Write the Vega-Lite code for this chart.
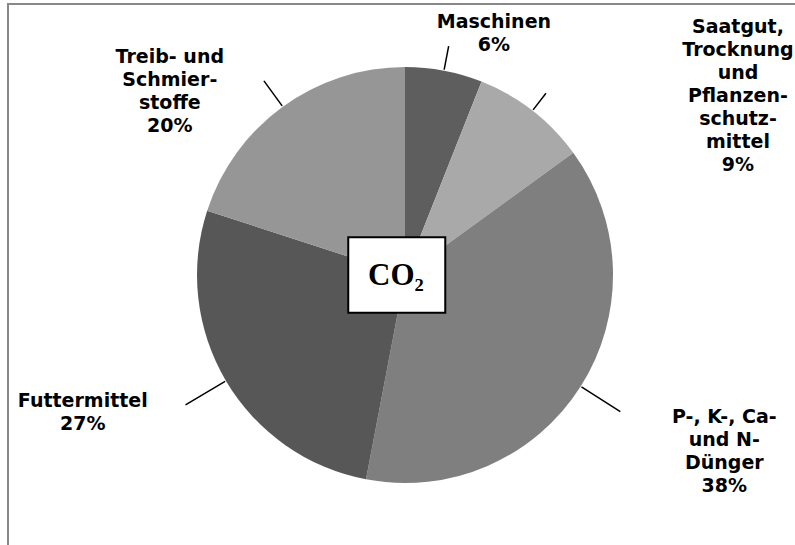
{
  "$schema": "https://vega.github.io/schema/vega-lite/v6.json",
  "width": 794,
  "height": 542,
  "autosize": {"type": "none"},
  "padding": {"left": 8, "top": 4, "right": 0, "bottom": 0},
  "background": "white",
  "view": {"stroke": "#888888", "strokeWidth": 2},
  "config": {"view": {"stroke": "#888888", "strokeWidth": 2}, "style": {"cell": {"stroke": "#888888", "strokeWidth": 2}}},
  "datasets": {
    "shares": [
      {"cat": "Maschinen", "label": "Maschinen\n6%", "value": 6, "rank": 1},
      {"cat": "Saatgut", "label": "Saatgut,\nTrocknung\nund\nPflanzen-\nschutz-\nmittel\n9%", "value": 9, "rank": 2},
      {"cat": "Dünger", "label": "P-, K-, Ca-\nund N-\nDünger\n38%", "value": 38, "rank": 3},
      {"cat": "Futtermittel", "label": "Futtermittel\n27%", "value": 27, "rank": 4},
      {"cat": "Treibstoffe", "label": "Treib- und\nSchmier-\nstoffe\n20%", "value": 20, "rank": 5}
    ],
    "box": [{"t": "CO₂"}]
  },
  "layer": [
    {
      "data": {"name": "shares"},
      "mark": {"type": "arc", "radius": 208},
      "encoding": {
        "theta": {"field": "value", "type": "quantitative", "stack": true},
        "order": {"field": "rank", "type": "quantitative"},
        "color": {
          "field": "cat", "type": "nominal", "legend": null,
          "scale": {
            "domain": ["Maschinen", "Saatgut", "Dünger", "Futtermittel", "Treibstoffe"],
            "range": ["#5e5e5e", "#a9a9a9", "#7f7f7f", "#575757", "#969696"]
          }
        }
      }
    },
    {
      "data": {"name": "shares"},
      "mark": {"type": "arc", "radius2": 209, "radius": 233, "padAngle": 3.1, "fill": null, "fillOpacity": 0, "stroke": "black", "strokeWidth": 1.5},
      "encoding": {
        "theta": {"field": "value", "type": "quantitative", "stack": true},
        "order": {"field": "rank", "type": "quantitative"},
        "strokeOpacity": {"condition": {"test": "datum.cat === 'Maschinen'", "value": 1}, "value": 0}
      }
    },
    {
      "data": {"name": "shares"},
      "mark": {"type": "arc", "radius2": 209, "radius": 230, "padAngle": 3.1, "fill": null, "fillOpacity": 0, "stroke": "black", "strokeWidth": 1.5},
      "encoding": {
        "theta": {"field": "value", "type": "quantitative", "stack": true},
        "order": {"field": "rank", "type": "quantitative"},
        "strokeOpacity": {"condition": {"test": "datum.cat === 'Saatgut'", "value": 1}, "value": 0}
      }
    },
    {
      "data": {"name": "shares"},
      "mark": {"type": "arc", "radius2": 209, "radius": 255, "padAngle": 3.1, "fill": null, "fillOpacity": 0, "stroke": "black", "strokeWidth": 1.5},
      "encoding": {
        "theta": {"field": "value", "type": "quantitative", "stack": true},
        "order": {"field": "rank", "type": "quantitative"},
        "strokeOpacity": {"condition": {"test": "datum.cat === 'Dünger' || datum.cat === 'Futtermittel'", "value": 1}, "value": 0}
      }
    },
    {
      "data": {"name": "shares"},
      "mark": {"type": "arc", "radius2": 209, "radius": 240, "padAngle": 3.1, "fill": null, "fillOpacity": 0, "stroke": "black", "strokeWidth": 1.5},
      "encoding": {
        "theta": {"field": "value", "type": "quantitative", "stack": true},
        "order": {"field": "rank", "type": "quantitative"},
        "strokeOpacity": {"condition": {"test": "datum.cat === 'Treibstoffe'", "value": 1}, "value": 0}
      }
    },
    {
      "data": {"name": "shares"},
      "mark": {"type": "text", "radius": 245, "dx": 43, "dy": -12.5, "font": "DejaVu Sans", "fontWeight": "bold", "fontSize": 19, "lineHeight": 23, "lineBreak": "\n", "align": "center", "baseline": "middle", "color": "black"},
      "encoding": {
        "theta": {"field": "value", "type": "quantitative", "stack": true},
        "order": {"field": "rank", "type": "quantitative"},
        "text": {"condition": {"test": "datum.cat === 'Maschinen'", "field": "label"}, "value": ""}
      }
    },
    {
      "data": {"name": "shares"},
      "mark": {"type": "text", "radius": 230, "dx": 192, "dy": -66, "font": "DejaVu Sans", "fontWeight": "bold", "fontSize": 19, "lineHeight": 23, "lineBreak": "\n", "align": "center", "baseline": "middle", "color": "black"},
      "encoding": {
        "theta": {"field": "value", "type": "quantitative", "stack": true},
        "order": {"field": "rank", "type": "quantitative"},
        "text": {"condition": {"test": "datum.cat === 'Saatgut'", "field": "label"}, "value": ""}
      }
    },
    {
      "data": {"name": "shares"},
      "mark": {"type": "text", "radius": 300, "dx": 66, "dy": -18.5, "font": "DejaVu Sans", "fontWeight": "bold", "fontSize": 19, "lineHeight": 23, "lineBreak": "\n", "align": "center", "baseline": "middle", "color": "black"},
      "encoding": {
        "theta": {"field": "value", "type": "quantitative", "stack": true},
        "order": {"field": "rank", "type": "quantitative"},
        "text": {"condition": {"test": "datum.cat === 'Dünger'", "field": "label"}, "value": ""}
      }
    },
    {
      "data": {"name": "shares"},
      "mark": {"type": "text", "radius": 300, "dx": -64, "dy": -26.5, "font": "DejaVu Sans", "fontWeight": "bold", "fontSize": 19, "lineHeight": 23, "lineBreak": "\n", "align": "center", "baseline": "middle", "color": "black"},
      "encoding": {
        "theta": {"field": "value", "type": "quantitative", "stack": true},
        "order": {"field": "rank", "type": "quantitative"},
        "text": {"condition": {"test": "datum.cat === 'Futtermittel'", "field": "label"}, "value": ""}
      }
    },
    {
      "data": {"name": "shares"},
      "mark": {"type": "text", "radius": 230, "dx": -100, "dy": -31.5, "font": "DejaVu Sans", "fontWeight": "bold", "fontSize": 19, "lineHeight": 23, "lineBreak": "\n", "align": "center", "baseline": "middle", "color": "black"},
      "encoding": {
        "theta": {"field": "value", "type": "quantitative", "stack": true},
        "order": {"field": "rank", "type": "quantitative"},
        "text": {"condition": {"test": "datum.cat === 'Treibstoffe'", "field": "label"}, "value": ""}
      }
    },
    {
      "data": {"name": "box"},
      "mark": {"type": "point", "shape": "M-1.17,-0.78L0.83,-0.78L0.83,0.78L-1.17,0.78Z", "size": 9409, "filled": true, "fill": "white", "stroke": "black", "strokeWidth": 2, "opacity": 1, "fillOpacity": 1, "strokeOpacity": 1},
      "encoding": {}
    },
    {
      "data": {"name": "box"},
      "mark": {"type": "text", "dx": -9, "dy": 1, "font": "Liberation Serif", "fontWeight": "bold", "fontSize": 31, "align": "center", "baseline": "middle", "color": "black"},
      "encoding": {"text": {"field": "t"}}
    }
  ]
}
